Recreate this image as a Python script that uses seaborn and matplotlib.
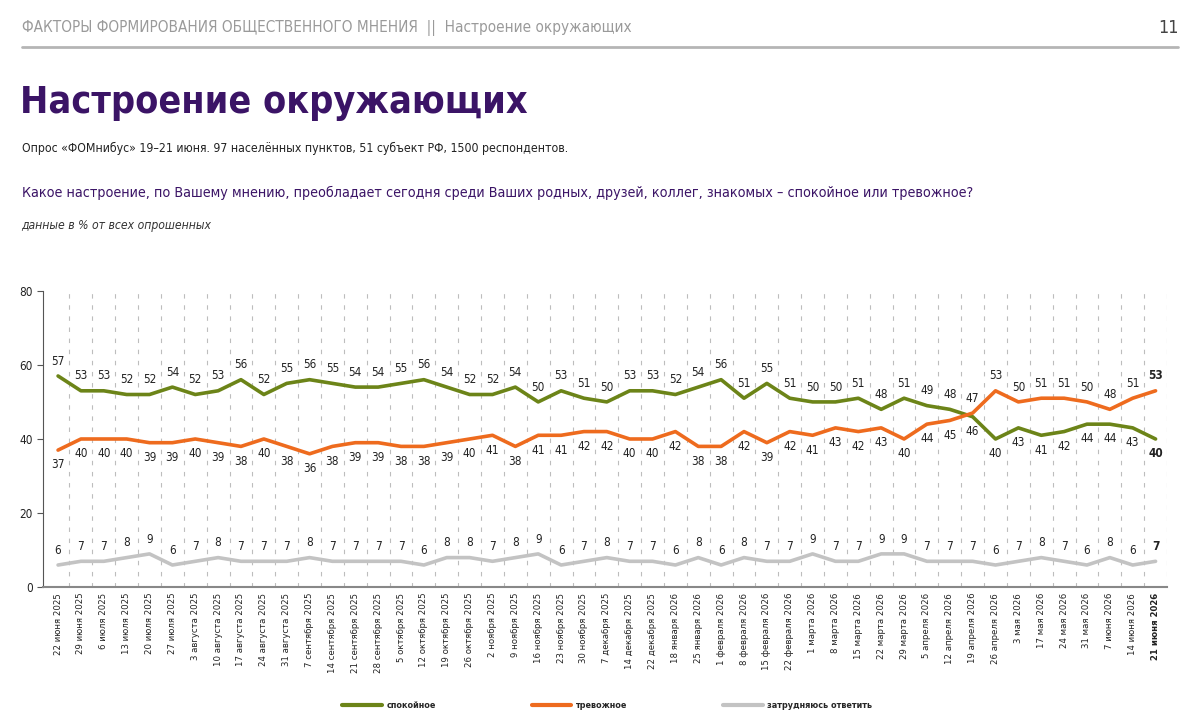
import seaborn as sns
import matplotlib.pyplot as plt
import pandas as pd
from matplotlib.lines import Line2D

# даты опросов
dates = ['22 июня 2025', '29 июня 2025', '6 июля 2025', '13 июля 2025', '20 июля 2025',
         '27 июля 2025', '3 августа 2025', '10 августа 2025', '17 августа 2025',
         '24 августа 2025', '31 августа 2025', '7 сентября 2025', '14 сентября 2025',
         '21 сентября 2025', '28 сентября 2025', '5 октября 2025', '12 октября 2025',
         '19 октября 2025', '26 октября 2025', '2 ноября 2025', '9 ноября 2025',
         '16 ноября 2025', '23 ноября 2025', '30 ноября 2025', '7 декабря 2025',
         '14 декабря 2025', '22 декабря 2025', '18 января 2026', '25 января 2026',
         '1 февраля 2026', '8 февраля 2026', '15 февраля 2026', '22 февраля 2026',
         '1 марта 2026', '8 марта 2026', '15 марта 2026', '22 марта 2026', '29 марта 2026',
         '5 апреля 2026', '12 апреля 2026', '19 апреля 2026', '26 апреля 2026',
         '3 мая 2026', '17 мая 2026', '24 мая 2026', '31 мая 2026', '7 июня 2026',
         '14 июня 2026', '21 июня 2026']

calm = [57, 53, 53, 52, 52, 54, 52, 53, 56, 52, 55, 56, 55, 54, 54, 55, 56, 54, 52, 52,
        54, 50, 53, 51, 50, 53, 53, 52, 54, 56, 51, 55, 51, 50, 50, 51, 48, 51, 49, 48,
        46, 40, 43, 41, 42, 44, 44, 43, 40]
anxious = [37, 40, 40, 40, 39, 39, 40, 39, 38, 40, 38, 36, 38, 39, 39, 38, 38, 39, 40, 41,
           38, 41, 41, 42, 42, 40, 40, 42, 38, 38, 42, 39, 42, 41, 43, 42, 43, 40, 44, 45,
           47, 53, 50, 51, 51, 50, 48, 51, 53]
hard = [6, 7, 7, 8, 9, 6, 7, 8, 7, 7, 7, 8, 7, 7, 7, 7, 6, 8, 8, 7, 8, 9, 6, 7, 8, 7, 7,
        6, 8, 6, 8, 7, 7, 9, 7, 7, 9, 9, 7, 7, 7, 6, 7, 8, 7, 6, 8, 6, 7]

series_names = ['спокойное', 'тревожное', 'затрудняюсь ответить']
colors = ['#6c8418', '#ee6b1e', '#c3c3c3']
purple = '#3b1466'

n = len(dates)
df = pd.DataFrame({
    'idx': list(range(n)) * 3,
    'value': calm + anxious + hard,
    'series': [series_names[0]] * n + [series_names[1]] * n + [series_names[2]] * n,
})

sns.set_style('white')
plt.rcParams['font.family'] = ['DejaVu Sans']
plt.rcParams['font.stretch'] = 'condensed'

fig = plt.figure(figsize=(12, 7.25), dpi=100)
ax = fig.add_axes([0.036, 0.19, 0.9365, 0.409])

# вертикальная пунктирная сетка между точками
for b in range(n):
    ax.axvline(b + 0.5, color='#bdbdbd', lw=0.8, ls=(0, (4, 6)), zorder=0)

sns.lineplot(data=df, x='idx', y='value', hue='series', palette=dict(zip(series_names, colors)),
             linewidth=2.6, legend=False, ax=ax, sort=False)

# подписи значений
for i in range(n):
    last = i == n - 1
    fw = 'bold' if last else 'normal'
    c, a = calm[i], anxious[i]
    c_above = c >= a
    ax.annotate(str(c), (i, c), xytext=(0, 6 if c_above else -6), textcoords='offset points',
                ha='center', va='bottom' if c_above else 'top', fontsize=8.5, color='#222222',
                fontweight=fw)
    ax.annotate(str(a), (i, a), xytext=(0, -6 if c_above else 6), textcoords='offset points',
                ha='center', va='top' if c_above else 'bottom', fontsize=8.5, color='#222222',
                fontweight=fw)
    ax.annotate(str(hard[i]), (i, hard[i]), xytext=(0, 6), textcoords='offset points',
                ha='center', va='bottom', fontsize=8.5, color='#222222', fontweight=fw)

ax.set_xlim(-0.65, n - 0.5)
ax.set_ylim(0, 80)
ax.set_yticks([0, 20, 40, 60, 80])
ax.set_xticks(range(n))
ax.set_xticklabels(dates, rotation=90, fontsize=6.8, color='#222222')
ax.get_xticklabels()[-1].set_fontweight('bold')
ax.tick_params(axis='y', labelsize=8.5, length=4, color='#555555', labelcolor='#222222', left=True)
ax.tick_params(axis='x', length=0, pad=4)
ax.set_xlabel('')
ax.set_ylabel('')
for s in ['top', 'right']:
    ax.spines[s].set_visible(False)
ax.spines['left'].set_color('#555555')
ax.spines['bottom'].set_color('#888888')
ax.spines['bottom'].set_linewidth(1.5)

# шапка
fig.text(0.018, 1 - 28 / 725, 'ФАКТОРЫ ФОРМИРОВАНИЯ ОБЩЕСТВЕННОГО МНЕНИЯ  ||  Настроение окружающих',
         fontsize=11, color='#9a9a9a', va='center', ha='left')
fig.text(0.982, 1 - 28 / 725, '11', fontsize=13, color='#444444', va='center', ha='right')
fig.add_artist(Line2D([0.018, 0.982], [1 - 47 / 725] * 2, color='#b5b5b5', lw=2))

fig.text(0.017, 1 - 103 / 725, 'Настроение окружающих', fontsize=27, fontweight='bold',
         color=purple, va='center', ha='left')
fig.text(0.018, 1 - 148 / 725,
         'Опрос «ФОМнибус» 19–21 июня. 97 населённых пунктов, 51 субъект РФ, 1500 респондентов.',
         fontsize=8.8, color='#222222', va='center', ha='left')
fig.text(0.018, 1 - 193 / 725,
         'Какое настроение, по Вашему мнению, преобладает сегодня среди Ваших родных, друзей, '
         'коллег, знакомых – спокойное или тревожное?',
         fontsize=10.25, color=purple, va='center', ha='left')
fig.text(0.018, 1 - 226 / 725, 'данные в % от всех опрошенных', fontsize=8.7, style='italic',
         color='#333333', va='center', ha='left')

handles = [Line2D([0], [0], color=c, lw=3) for c in colors]
fig.legend(handles, series_names, loc='center', bbox_to_anchor=(0.506, 1 - 706 / 725), ncol=3,
           frameon=False, handlelength=4.4, handletextpad=0.5, columnspacing=10.6,
           prop={'weight': 'bold', 'size': 6.5, 'stretch': 'condensed'})

fig.savefig('out.png', dpi=100)
